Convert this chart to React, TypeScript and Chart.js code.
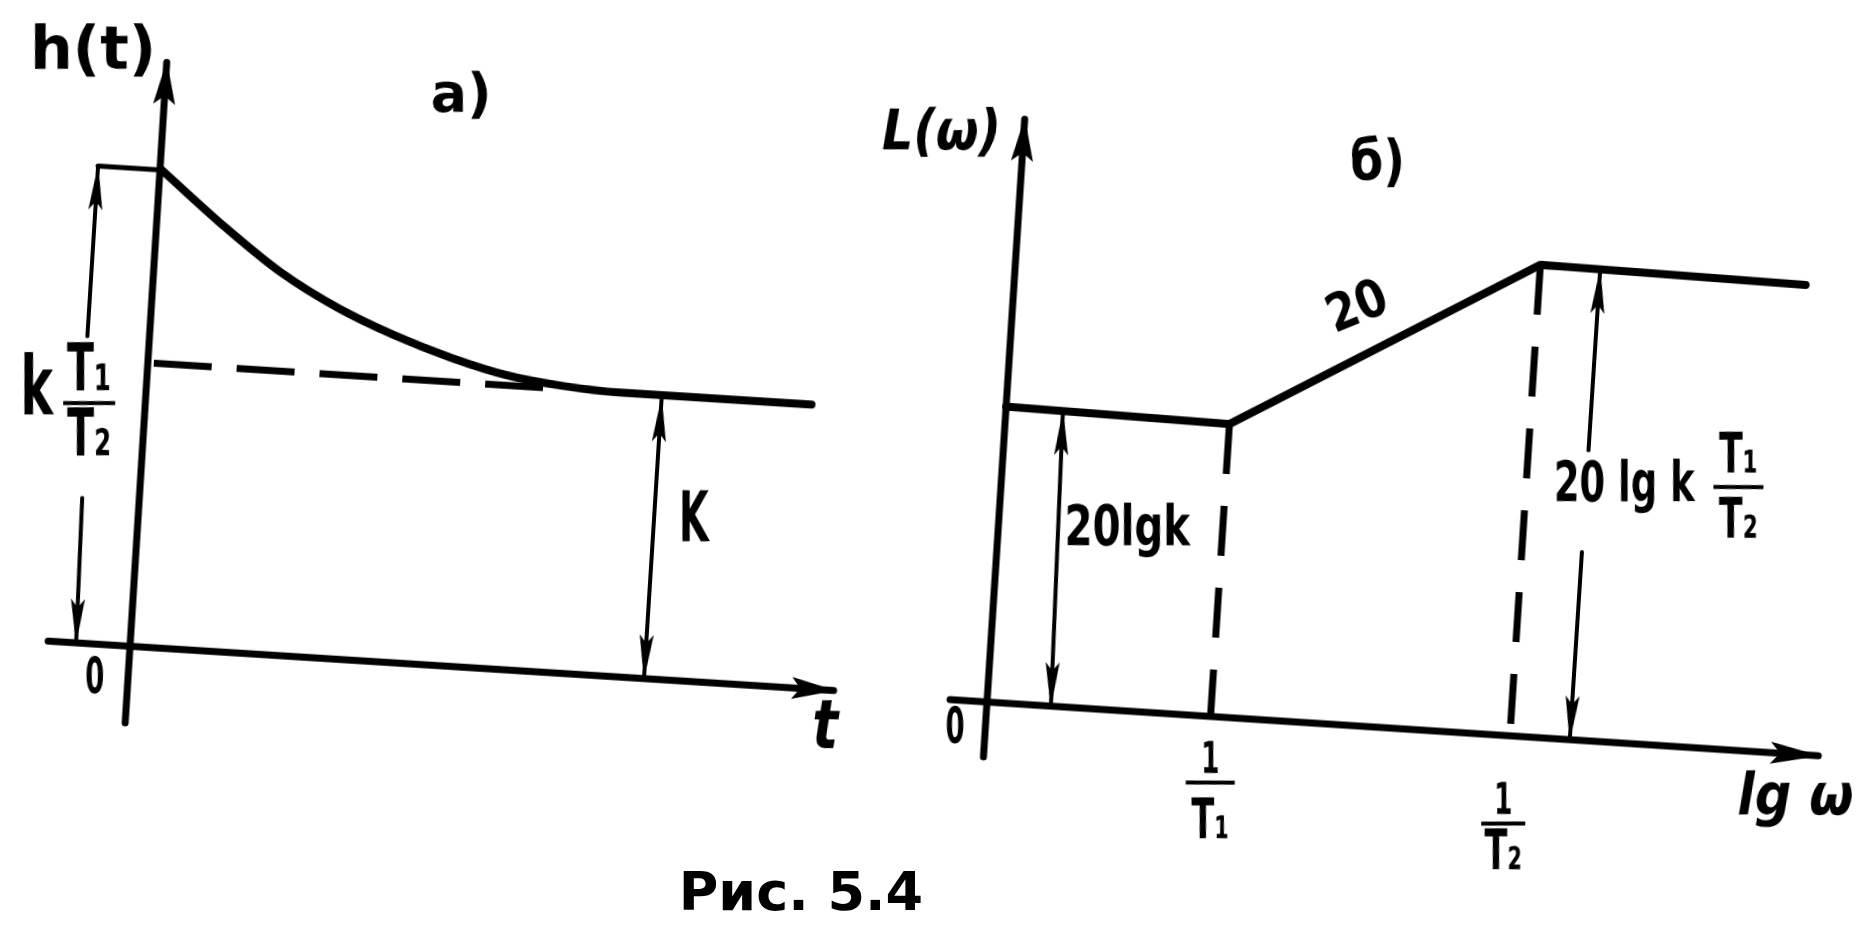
import React, { useEffect, useRef } from "react";
import { Chart, registerables } from "chart.js";

Chart.register(...registerables);

const INK = "#000000";
const FONT = '"DejaVu Sans", "Liberation Sans", sans-serif';

// ---------- Panel а): transient response h(t) ----------
const timePoints = [0.02, 0.7, 1.28, 1.86, 2.45, 3.02, 3.6, 4.17, 4.73, 5.07, 6.65];
const responseValues = [1.68, 1.49, 1.345, 1.235, 1.15, 1.085, 1.035, 1.01, 1.0, 1.0, 1.0];
const steadyValue = 1.0; // k
const initialValue = 1.68; // k·T1/T2
const timeAxisRange = [-0.82, 7.05];
const responseAxisRange = [-0.27, 2.06];
const steadyDashRange = [0.06, 4.06];
const steadyMarkerTime = 5.15;
const initialMarkerTimes = [-0.62, -0.57, -0.54];
const initialMarkerGap = [0.51, 1.08];

// ---------- Panel б): asymptotic log-magnitude L(ω) ----------
const lgOmegaPoints = [0, 2.24, 5.24, 7.9];
const magnitudeValues = [2.96, 2.93, 4.72, 4.69];
const cornerOmega1 = 2.24; // 1/T1
const cornerOmega2 = 5.24; // 1/T2
const lgOmegaAxisRange = [-0.37, 8.33];
const magnitudeAxisRange = [-0.55, 5.84];
const lowGainMarker = [0.64, 0.57]; // bottom, top
const highGainMarker = 5.84;
const highGainGap = [1.88, 2.9];
const tickNumerators = ["1", "1"];
const tickDenominators = ["T₁", "T₂"];

type Pt = [number, number];

const line = (pts: Pt[], width: number, extra: any = {}) => ({
  data: pts.map(([x, y]) => ({ x, y })),
  showLine: true,
  borderColor: INK,
  backgroundColor: INK,
  borderWidth: width,
  pointRadius: 0,
  pointHoverRadius: 0,
  fill: false,
  clip: false,
  tension: 0,
  borderCapStyle: "round",
  borderJoinStyle: "round",
  ...extra,
});

const AXIS_HEAD = [42, 11];
const DIM_HEAD = [44, 7];

const panelA = {
  xRange: [-1.35, 7.6],
  yRange: [-0.45, 2.3],
  pxX: 100,
  pxY: 284,
  origin: [130, 646],
  tilt: 3.6,
  datasets: [
    line([[timeAxisRange[0], 0], [timeAxisRange[1], 0]], 7, { arrow: "end", head: AXIS_HEAD }),
    line([[0, responseAxisRange[0]], [0, responseAxisRange[1]]], 7, { arrow: "end", head: AXIS_HEAD }),
    line(timePoints.map((t, i) => [t, responseValues[i]] as Pt), 8, { cubicInterpolationMode: "monotone" }),
    line([[steadyDashRange[0], steadyValue], [steadyDashRange[1], steadyValue]], 7, {
      borderDash: [58, 25],
      borderCapStyle: "butt",
    }),
    line([[initialMarkerTimes[0], initialValue], [timePoints[0], initialValue]], 5),
    line([[initialMarkerTimes[0], initialMarkerGap[1]], [initialMarkerTimes[0], initialValue]], 4, {
      arrow: "end",
      head: DIM_HEAD,
    }),
    line([[initialMarkerTimes[1], initialMarkerGap[0]], [initialMarkerTimes[2], 0]], 4, {
      arrow: "end",
      head: DIM_HEAD,
    }),
    line([[steadyMarkerTime, 0], [steadyMarkerTime, steadyValue - 0.01]], 4, { arrow: "both", head: DIM_HEAD }),
  ],
  labels: [
    { text: "h(t)", x: -0.74, y: 2.076, size: 60 },
    { text: "а)", x: 2.96, y: 2.0, size: 54 },
    { text: "0", x: -0.33, y: -0.127, size: 50, sx: 0.55 },
    { text: "t", x: 6.99, y: -0.142, size: 68, sx: 0.8, italic: true },
    { text: "K", x: 5.55, y: 0.557, size: 70, sx: 0.55 },
    { text: "k", x: -1.09, y: 0.869, size: 82, sx: 0.6 },
    { num: "T₁", den: "T₂", x: -0.56, y: 0.845, size: 66, sx: 0.6, numDy: 30, denDy: 35, barW: 52 },
  ],
};

const panelB = {
  xRange: [-1.4, 8.8],
  yRange: [-1.6, 6.2],
  pxX: 100,
  pxY: 100,
  origin: [987, 702],
  tilt: 3.7,
  datasets: [
    line([[lgOmegaAxisRange[0], 0], [lgOmegaAxisRange[1], 0]], 7, { arrow: "end", head: [48, 11] }),
    line([[0, magnitudeAxisRange[0]], [0, magnitudeAxisRange[1]]], 7, { arrow: "end", head: AXIS_HEAD }),
    line(lgOmegaPoints.map((w, i) => [w, magnitudeValues[i]] as Pt), 8),
    line([[cornerOmega1, magnitudeValues[1]], [cornerOmega1, 0]], 7, { borderDash: [50, 32], borderCapStyle: "butt" }),
    line([[cornerOmega2, magnitudeValues[2]], [cornerOmega2, 0]], 7, { borderDash: [50, 32], borderCapStyle: "butt" }),
    line([[lowGainMarker[0], 0], [lowGainMarker[1], magnitudeValues[0] - 0.01]], 4, { arrow: "both", head: DIM_HEAD }),
    line([[highGainMarker, highGainGap[1]], [highGainMarker, magnitudeValues[2] - 0.01]], 4, {
      arrow: "end",
      head: DIM_HEAD,
    }),
    line([[highGainMarker, highGainGap[0]], [highGainMarker, 0]], 4, { arrow: "end", head: DIM_HEAD }),
  ],
  labels: [
    { text: "L(ω)", x: -0.82, y: 5.63, size: 56, sx: 0.88, italic: true },
    { text: "б)", x: 3.55, y: 5.61, size: 56, sx: 0.85 },
    { text: "20", x: 3.45, y: 4.16, size: 52, sx: 0.85, rot: -22 },
    { text: "0", x: -0.3, y: -0.3, size: 50, sx: 0.55 },
    { text: "20lgk", x: 1.29, y: 1.8, size: 56, sx: 0.72 },
    { text: "20 lg k", x: 6.22, y: 2.56, size: 56, sx: 0.66 },
    { num: "T₁", den: "T₂", x: 7.36, y: 2.63, size: 56, sx: 0.62, numDy: 29, denDy: 36, barW: 50 },
    {
      num: tickNumerators[0], den: tickDenominators[0], x: cornerOmega1 + 0.04, y: -0.66,
      numSize: 44, size: 56, sx: 0.6, numDy: 21, denDy: 41, barW: 49,
    },
    {
      num: tickNumerators[1], den: tickDenominators[1], x: cornerOmega2 - 0.01, y: -0.88,
      numSize: 44, size: 56, sx: 0.6, numDy: 21, denDy: 31, barW: 44,
    },
    { text: "lg ω", x: 8.13, y: -0.45, size: 58, sx: 0.88, italic: true },
  ],
};

function drawHead(ctx: CanvasRenderingContext2D, tip: any, from: any, len: number, hw: number) {
  const dx = tip.x - from.x;
  const dy = tip.y - from.y;
  const d = Math.hypot(dx, dy) || 1;
  const ux = dx / d;
  const uy = dy / d;
  const bx = tip.x - ux * len;
  const by = tip.y - uy * len;
  const nx = -uy;
  const ny = ux;
  ctx.beginPath();
  ctx.moveTo(tip.x + ux * 2, tip.y + uy * 2);
  ctx.lineTo(bx + nx * hw, by + ny * hw);
  ctx.lineTo(tip.x - ux * len * 0.8, tip.y - uy * len * 0.8);
  ctx.lineTo(bx - nx * hw, by - ny * hw);
  ctx.closePath();
  ctx.fill();
}

function font(size: number, italic?: boolean) {
  return `${italic ? "italic " : ""}bold ${size}px ${FONT}`;
}

function Panel({ spec }: { spec: any }) {
  const ref = useRef<HTMLCanvasElement>(null);
  const w = Math.round((spec.xRange[1] - spec.xRange[0]) * spec.pxX);
  const h = Math.round((spec.yRange[1] - spec.yRange[0]) * spec.pxY);
  const ox = -spec.xRange[0] * spec.pxX;
  const oy = spec.yRange[1] * spec.pxY;
  const left = spec.origin[0] - ox;
  const top = spec.origin[1] - oy;

  useEffect(() => {
    const canvas = ref.current;
    if (!canvas) return;
    const arrows = {
      id: "arrowHeads",
      afterDatasetsDraw(chart: any) {
        const ctx = chart.ctx;
        ctx.save();
        ctx.fillStyle = INK;
        chart.data.datasets.forEach((ds: any, i: number) => {
          if (!ds.arrow) return;
          const pts = chart.getDatasetMeta(i).data;
          const n = pts.length;
          const [len, hw] = ds.head;
          if (ds.arrow === "end" || ds.arrow === "both") drawHead(ctx, pts[n - 1], pts[n - 2], len, hw);
          if (ds.arrow === "start" || ds.arrow === "both") drawHead(ctx, pts[0], pts[1], len, hw);
        });
        ctx.restore();
      },
    };
    const labels = {
      id: "handLabels",
      afterDraw(chart: any) {
        const ctx = chart.ctx;
        const xs = chart.scales.x;
        const ys = chart.scales.y;
        spec.labels.forEach((lb: any) => {
          const px = xs.getPixelForValue(lb.x);
          const py = ys.getPixelForValue(lb.y);
          ctx.save();
          ctx.translate(px, py);
          ctx.rotate(((-spec.tilt + (lb.rot || 0)) * Math.PI) / 180);
          ctx.fillStyle = INK;
          ctx.textAlign = "center";
          ctx.textBaseline = "middle";
          if (lb.den) {
            ctx.fillRect(-lb.barW / 2, -2, lb.barW, 4);
            ctx.save();
            ctx.translate(0, -lb.numDy);
            ctx.scale(lb.sx || 1, 1);
            ctx.font = font(lb.numSize || lb.size, lb.italic);
            ctx.fillText(lb.num, 0, 0);
            ctx.restore();
            ctx.save();
            ctx.translate(0, lb.denDy);
            ctx.scale(lb.sx || 1, 1);
            ctx.font = font(lb.size, lb.italic);
            ctx.fillText(lb.den, 0, 0);
            ctx.restore();
          } else {
            ctx.scale(lb.sx || 1, 1);
            ctx.font = font(lb.size, lb.italic);
            ctx.fillText(lb.text, 0, 0);
          }
          ctx.restore();
        });
      },
    };
    const chart = new Chart(canvas, {
      type: "scatter",
      data: { datasets: spec.datasets },
      options: {
        animation: false,
        responsive: false,
        maintainAspectRatio: false,
        events: [],
        layout: { padding: 0 },
        plugins: { legend: { display: false }, tooltip: { enabled: false }, title: { display: false } },
        scales: {
          x: { type: "linear", display: false, min: spec.xRange[0], max: spec.xRange[1] },
          y: { type: "linear", display: false, min: spec.yRange[0], max: spec.yRange[1] },
        },
      } as any,
      plugins: [arrows, labels],
    });
    return () => chart.destroy();
  }, []);

  return (
    <canvas
      ref={ref}
      width={w}
      height={h}
      style={{
        position: "absolute",
        left,
        top,
        width: w,
        height: h,
        transform: `rotate(${spec.tilt}deg)`,
        transformOrigin: `${ox}px ${oy}px`,
      }}
    />
  );
}

export default function App() {
  return (
    <div
      style={{
        position: "absolute",
        left: 0,
        top: 0,
        width: 1860,
        height: 936,
        overflow: "hidden",
        background: "#ffffff",
      }}
    >
      <Panel spec={panelA} />
      <Panel spec={panelB} />
      <div
        style={{
          position: "absolute",
          left: 601,
          top: 862,
          width: 400,
          textAlign: "center",
          font: `bold 54px ${FONT}`,
          lineHeight: "60px",
          color: INK,
        }}
      >
        Рис. 5.4
      </div>
    </div>
  );
}
